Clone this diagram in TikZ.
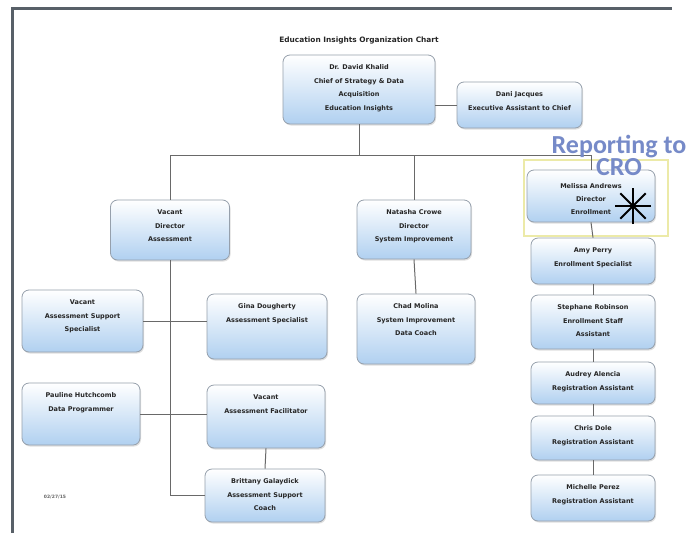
\documentclass[tikz,border=0pt]{standalone}
\usepackage{fontspec}
\setmainfont{Carlito}
\newfontfamily\orgfont{DejaVu Sans}
\usetikzlibrary{shadows}

\definecolor{boxblue}{RGB}{176,208,240}
\definecolor{boxline}{RGB}{150,160,172}
\definecolor{wirecol}{RGB}{105,105,105}
\definecolor{crotext}{RGB}{118,138,200}
\definecolor{framecol}{RGB}{88,96,104}
\definecolor{hilite}{RGB}{236,234,168}

\tikzset{
  orgbox/.style={draw=boxline, line width=0.8pt, rounded corners=7pt,
    top color=white, middle color=white, bottom color=boxblue, inner sep=0pt,
    drop shadow={opacity=0.25, shadow xshift=1pt, shadow yshift=-1.5pt}},
  orgtext/.style={align=center, font=\orgfont\fontsize{6.5}{13.5}\selectfont\bfseries,
    text=black!85, inner sep=0pt, anchor=north},
  wire/.style={draw=wirecol, line width=1pt},
  crolabel/.style={align=center, font=\fontsize{26}{22}\selectfont\bfseries,
    text=crotext, inner sep=0pt, anchor=north},
}

% name, centre x, centre y, width, height, text
\newcommand{\orgnode}[6]{%
  \node[orgbox, minimum width=#4pt, minimum height=#5pt] (#1) at (#2,#3) {};
  \node[orgtext] (#1-t) at ([yshift=-10pt]#1.north) {#6};}

\begin{document}
\begin{tikzpicture}[x=1pt, y=-1pt]
\useasboundingbox (0,0) rectangle (687,533);
\fill[white] (0,0) rectangle (687,533);

% page frame
\draw[framecol, line width=3pt] (12,533) -- (12,8.5) -- (672,8.5);

% title
\node[font=\orgfont\fontsize{7.4}{10}\selectfont\bfseries, text=black!85] (title) at (359,40)
  {Education Insights Organization Chart};

% highlight behind the enrollment director
\draw[hilite, line width=1.5pt] (524,160) rectangle (668,236);

% boxes
\orgnode{top}{359}{89.5}{152}{69}{Dr. David Khalid\\Chief of Strategy \& Data\\Acquisition\\Education Insights}
\orgnode{dani}{519.5}{105}{125}{46}{Dani Jacques\\Executive Assistant to Chief}

\orgnode{dirA}{170}{230}{119}{60}{Vacant\\Director\\Assessment}
\orgnode{dirS}{414}{229.5}{114}{59}{Natasha Crowe\\Director\\System Improvement}
\node[orgbox, minimum width=128pt, minimum height=52pt] (mel) at (591,196) {};
\node[orgtext, font=\orgfont\fontsize{6.5}{13}\selectfont\bfseries] (mel-t)
  at ([yshift=-14pt]mel.north) {Melissa Andrews\\Director\\Enrollment};

\orgnode{specA}{82.5}{321}{121}{62}{Vacant\\Assessment Support\\Specialist}
\orgnode{gina}{267}{326.5}{120}{65}{Gina Dougherty\\Assessment Specialist}
\orgnode{paul}{81}{414}{118}{62}{Pauline Hutchcomb\\Data Programmer}
\orgnode{facil}{266}{416.5}{118}{63}{Vacant\\Assessment Facilitator}
\orgnode{brit}{265}{495.5}{120}{53}{Brittany Galaydick\\Assessment Support\\Coach}

\orgnode{chad}{416}{329}{118}{70}{Chad Molina\\System Improvement\\Data Coach}

\orgnode{amy}{593}{261}{124}{46}{Amy Perry\\Enrollment Specialist}
\orgnode{steph}{593}{322}{124}{54}{Stephane Robinson\\Enrollment Staff\\Assistant}
\orgnode{aud}{593}{383}{124}{42}{Audrey Alencia\\Registration Assistant}
\orgnode{chris}{593}{438}{124}{44}{Chris Dole\\Registration Assistant}
\orgnode{mich}{593}{498}{124}{46}{Michelle Perez\\Registration Assistant}

% connectors
\coordinate (bus) at (0,155);
\draw[wire] (dani.west) -- (dani.west -| top.east);
\draw[wire] (top.south) -- (top.south |- bus);
\draw[wire] (dirA.north) -- (dirA.north |- bus) -- (mel.north |- bus) -- (mel.north);
\draw[wire] (dirS.north) -- (dirS.north |- bus);
\draw[wire] (dirA.south) |- (brit.west);
\draw[wire] (specA.east) -- (specA.east -| gina.west);
\draw[wire] (paul.east) -- (paul.east -| facil.west);
\draw[wire] (facil.south) -- (brit.north);
\draw[wire] (dirS.south) -- (chad.north);
\draw[wire] (mel.south) -- (amy.north);
\draw[wire] (amy.south) -- (steph.north);
\draw[wire] (steph.south) -- (aud.north);
\draw[wire] (aud.south) -- (chris.north);
\draw[wire] (chris.south) -- (mich.north);

% asterisk marker on the enrollment director
\coordinate (star) at (633,206);
\foreach \a in {0,45,90,135}
  \draw[black, line width=2pt] (star) ++(\a:18) -- ++(\a+180:36);

% reporting note
\node[crolabel] (rep) at (619,135) {Reporting to\\CRO};

% date stamp
\node[font=\orgfont\fontsize{4.5}{6}\selectfont\bfseries, text=black!60] (date) at (55,497) {02/27/15};
\end{tikzpicture}
\end{document}
